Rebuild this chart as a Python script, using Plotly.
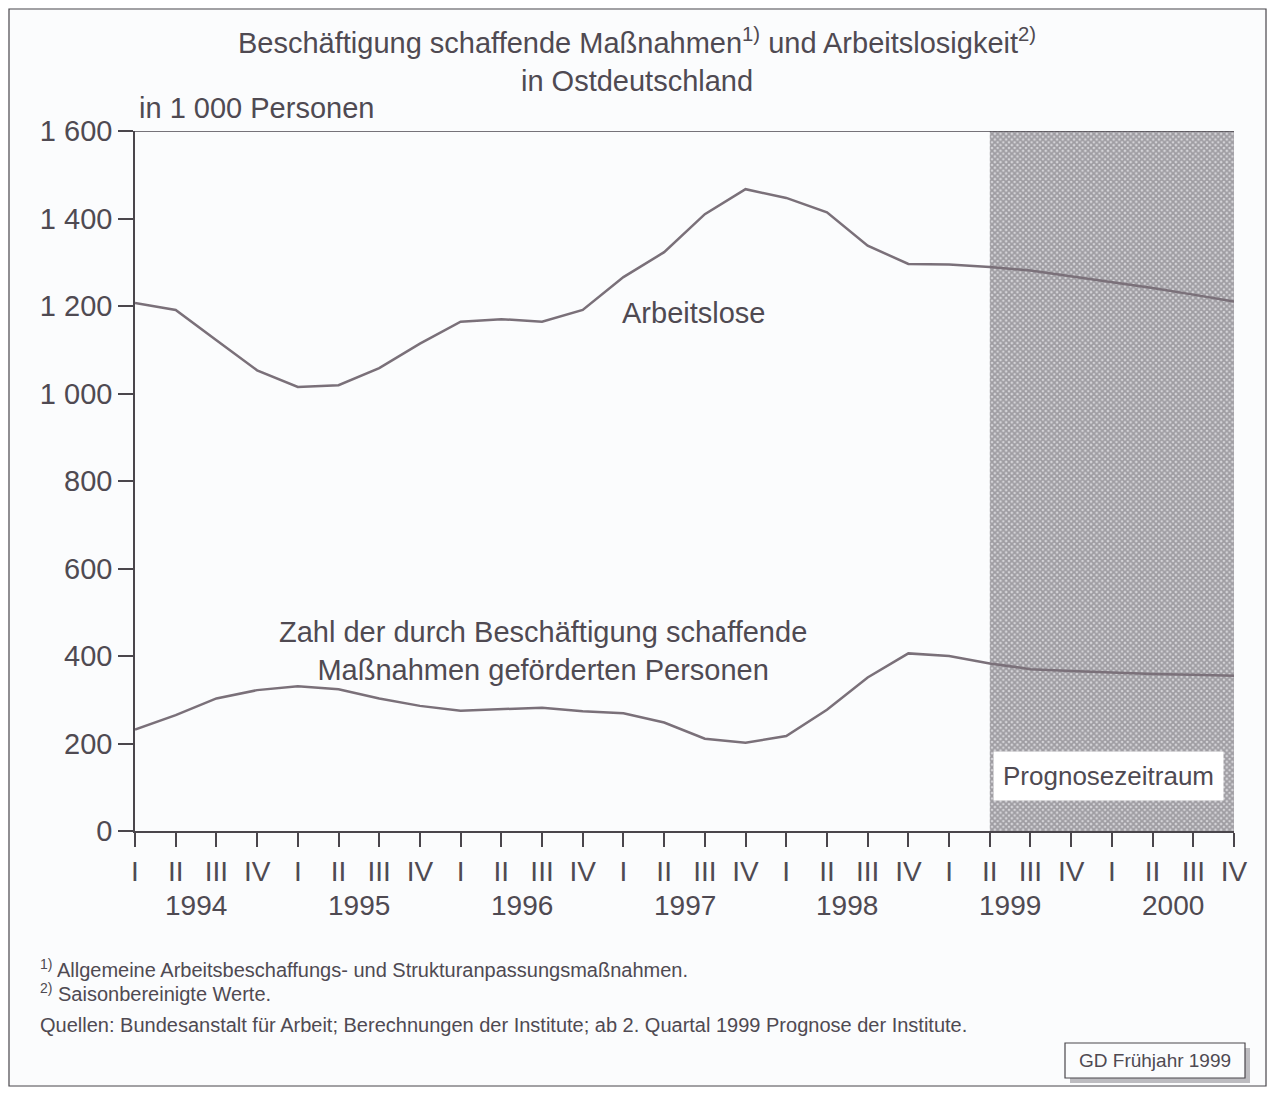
import plotly.graph_objects as go

# Daten (in 1 000 Personen), Quartale 1994 I bis 2000 IV
years = ["1994", "1995", "1996", "1997", "1998", "1999", "2000"]
quarter_labels = ["I", "II", "III", "IV"]

arbeitslose = [
    1207, 1191, 1122, 1053,
    1015, 1019, 1058, 1114,
    1164, 1170, 1164, 1191,
    1266, 1323, 1410, 1467,
    1447, 1414, 1338, 1296,
    1295, 1289, 1281, 1268,
    1254, 1241, 1226, 1210,
]
abm = [
    232, 265, 303, 322,
    331, 324, 303, 286,
    275, 278, 282, 274,
    269, 248, 211, 202,
    217, 277, 351, 406,
    400, 383, 370, 366,
    362, 359, 357, 355,
]

y_ticks = [0, 200, 400, 600, 800, 1000, 1200, 1400, 1600]
y_ticktext = ["0", "200", "400", "600", "800", "1 000", "1 200", "1 400", "1 600"]
prognose_start = 21  # 1999 II

_PAPER = "#fbfcfd"
_TEXT = "#4f4a52"
_LINE = "#7a7079"
_AXIS = "#4a464c"
_FONT = "Liberation Sans, Arial, sans-serif"

# Seite: Browser setzt 8 px Rand um die Grafik
OFF = 8
W, H = 1275 - 2 * OFF, 1095 - 2 * OFF
# Plotbereich in Bildschirmpixeln
L, R, T, B = 135, 1234, 131, 831


def px(xp):
    return (xp - L) / (R - L)


def py(yp):
    return (B - yp) / (B - T)


x = list(range(len(years) * 4))
x_end = x[-1]
y_max = y_ticks[-1]

fig = go.Figure()

# Prognosezeitraum (gerastert)
fig.add_trace(
    go.Scatter(
        x=[prognose_start, x_end, x_end, prognose_start, prognose_start],
        y=[0, 0, y_max, y_max, 0],
        mode="lines",
        line=dict(width=0),
        fill="toself",
        fillcolor="#9a989d",
        fillpattern=dict(shape="x", size=4, solidity=0.7,
                         fgcolor="#66636a", bgcolor="#d6d5d9"),
        hoverinfo="skip",
        showlegend=False,
    )
)

fig.add_trace(
    go.Scatter(x=x, y=arbeitslose, mode="lines", name="Arbeitslose",
               line=dict(color=_LINE, width=2.5), showlegend=False)
)
fig.add_trace(
    go.Scatter(x=x, y=abm, mode="lines", name="ABM",
               line=dict(color=_LINE, width=2.5), showlegend=False)
)

fig.update_layout(
    width=W,
    height=H,
    paper_bgcolor=_PAPER,
    plot_bgcolor=_PAPER,
    font=dict(family=_FONT, size=29, color=_TEXT),
    margin=dict(l=L - OFF, r=W + OFF - R, t=T - OFF, b=H + OFF - B, autoexpand=False),
    showlegend=False,
    xaxis=dict(
        range=[0, x_end],
        tickvals=x,
        ticktext=[quarter_labels[i % 4] for i in x],
        ticks="outside",
        ticklen=14,
        tickwidth=1.5,
        tickcolor=_AXIS,
        showline=True,
        linecolor=_AXIS,
        linewidth=1.5,
        showgrid=False,
        zeroline=False,
        tickfont=dict(size=28, color=_TEXT),
        ticklabelstandoff=1,
    ),
    yaxis=dict(
        range=[0, y_max],
        tickvals=y_ticks,
        ticktext=y_ticktext,
        ticks="outside",
        ticklen=15,
        tickwidth=1.5,
        tickcolor=_AXIS,
        showline=True,
        linecolor=_AXIS,
        linewidth=1.5,
        showgrid=False,
        zeroline=False,
        tickfont=dict(size=29, color=_TEXT),
        ticklabelstandoff=0,
    ),
)

# obere Begrenzungslinie bei 1 600
fig.add_shape(type="line", xref="x", yref="y", x0=0, x1=x_end, y0=y_max, y1=y_max,
              line=dict(color=_AXIS, width=1.5))

# Jahreszahlen
for i, yr in enumerate(years):
    fig.add_annotation(x=i * 4 + 1.5, y=0, xref="x", yref="y", yshift=-74,
                       xanchor="center", yanchor="middle",
                       text=yr, showarrow=False, font=dict(size=28, color=_TEXT))


def label(xp, yp, text, size, **kw):
    opts = dict(xanchor="center", yanchor="middle", align="center")
    opts.update(kw)
    fig.add_annotation(x=px(xp), y=py(yp), xref="paper", yref="paper", text=text,
                       showarrow=False, font=dict(size=size, color=_TEXT), **opts)


# Titel
label(637, 60,
      "Beschäftigung schaffende Maßnahmen<sup>1)</sup> und Arbeitslosigkeit<sup>2)</sup>"
      "<br>in Ostdeutschland", 29)
label(137, 108, "in 1 000 Personen", 29, xanchor="left")

# Reihenbeschriftungen
label(693, 313, "Arbeitslose", 29)
label(543, 651, "Zahl der durch Beschäftigung schaffende<br>Maßnahmen geförderten Personen", 29)
label(1108, 776, "Prognosezeitraum", 26, bgcolor="white", borderpad=9)

# Fußnoten
label(38, 968, "<sup>1)</sup> Allgemeine Arbeitsbeschaffungs- und Strukturanpassungsmaßnahmen.",
      20, xanchor="left", align="left")
label(38, 993, "<sup>2)</sup> Saisonbereinigte Werte.", 20, xanchor="left", align="left")
label(38, 1025, "Quellen: Bundesanstalt für Arbeit; Berechnungen der Institute; "
      "ab 2. Quartal 1999 Prognose der Institute.", 20, xanchor="left", align="left")

# GD-Kasten mit Schatten
fig.add_shape(type="rect", xref="paper", yref="paper",
              x0=px(1070), x1=px(1250), y0=py(1083), y1=py(1048),
              line=dict(width=0), fillcolor="#bdbcc0")
fig.add_shape(type="rect", xref="paper", yref="paper",
              x0=px(1065), x1=px(1245), y0=py(1078), y1=py(1043),
              line=dict(color=_AXIS, width=1.2), fillcolor=_PAPER)
label(1155, 1060, "GD Frühjahr 1999", 19)

# Rahmen um die Grafik
fig.add_shape(type="rect", xref="paper", yref="paper",
              x0=px(OFF + 1), x1=px(1275 - OFF - 1), y0=py(1095 - OFF - 1), y1=py(OFF + 1),
              line=dict(color=_AXIS, width=1.2))

fig.write_html("out.html")
